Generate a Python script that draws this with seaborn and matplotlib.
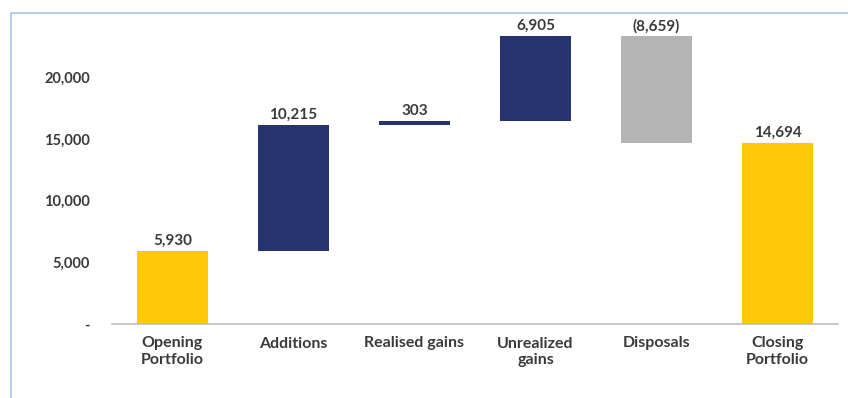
import matplotlib
matplotlib.use("Agg")
import matplotlib.pyplot as plt
from matplotlib.lines import Line2D
import numpy as np
import pandas as pd
import seaborn as sns

# Portfolio movement over the period
steps = ["Opening\nPortfolio", "Additions", "Realised gains",
         "Unrealized\ngains", "Disposals", "Closing\nPortfolio"]
movements = [5930, 10215, 303, 6905, -8659, 14694]
value_labels = ["5,930", "10,215", "303", "6,905", "(8,659)", "14,694"]
kinds = ["total", "change", "change", "change", "change", "total"]

y_ticks = [0, 5000, 10000, 15000, 20000]
y_tick_labels = ["-", "5,000", "10,000", "15,000", "20,000"]

YELLOW = "#FFC90A"
NAVY = "#25346E"
GREY = "#B4B4B4"
TEXT = "#3A3A3A"

# Waterfall geometry: totals start at zero, changes float on the running total
bases, heights = [], []
running = 0
for m, k in zip(movements, kinds):
    if k == "total":
        bases.append(0)
        heights.append(m)
        running = m
    elif m >= 0:
        bases.append(running)
        heights.append(m)
        running += m
    else:
        running += m
        bases.append(running)
        heights.append(-m)

colors = [YELLOW if k == "total" else (NAVY if m >= 0 else GREY)
          for m, k in zip(movements, kinds)]

df = pd.DataFrame({"step": steps, "height": heights, "base": bases})

sns.set_style("white")
plt.rcParams["font.family"] = ["Lato", "DejaVu Sans"]

fig = plt.figure(figsize=(8.48, 3.98), dpi=100)
ax = fig.add_axes([112 / 848, 1 - 324 / 398, 726 / 848, (324 - 36) / 398])

sns.barplot(data=df, x="step", y="height", bottom=df["base"].to_numpy(),
            order=steps, width=0.58, errorbar=None, ax=ax,
            color=NAVY, linewidth=0)
for patch, c in zip(ax.patches, colors):
    patch.set_facecolor(c)
    patch.set_edgecolor(c)

top = max(b + h for b, h in zip(bases, heights))
ax.set_ylim(0, top)
ax.set_xlim(-0.5, 5.5)

for i, (b, h, lab) in enumerate(zip(bases, heights, value_labels)):
    ax.annotate(lab, (i, b + h), xytext=(0, 2), textcoords="offset points",
                ha="center", va="bottom", fontsize=11, fontweight="bold",
                color=TEXT, annotation_clip=False)

ax.set_yticks(y_ticks)
ax.set_yticklabels(y_tick_labels)
ax.set_xlabel("")
ax.set_ylabel("")
ax.tick_params(axis="y", length=0, pad=16, labelsize=10.5, labelcolor=TEXT)
ax.tick_params(axis="x", length=0, pad=9, labelsize=11.5, labelcolor=TEXT)
for lab in ax.get_yticklabels() + ax.get_xticklabels():
    lab.set_fontweight("bold")

for side in ["left", "right", "top"]:
    ax.spines[side].set_visible(False)
ax.spines["bottom"].set_color("#BDBDBD")
ax.spines["bottom"].set_linewidth(1.2)

# light frame around the chart area
fx = 10.5 / 848
fy = 1 - 12.5 / 398
fig.add_artist(Line2D([fx, fx], [0, fy], transform=fig.transFigure,
                      color="#A9C8EA", linewidth=1.2))
fig.add_artist(Line2D([fx, 1], [fy, fy], transform=fig.transFigure,
                      color="#A9C8EA", linewidth=1.2))

fig.savefig("out.png", dpi=100)
